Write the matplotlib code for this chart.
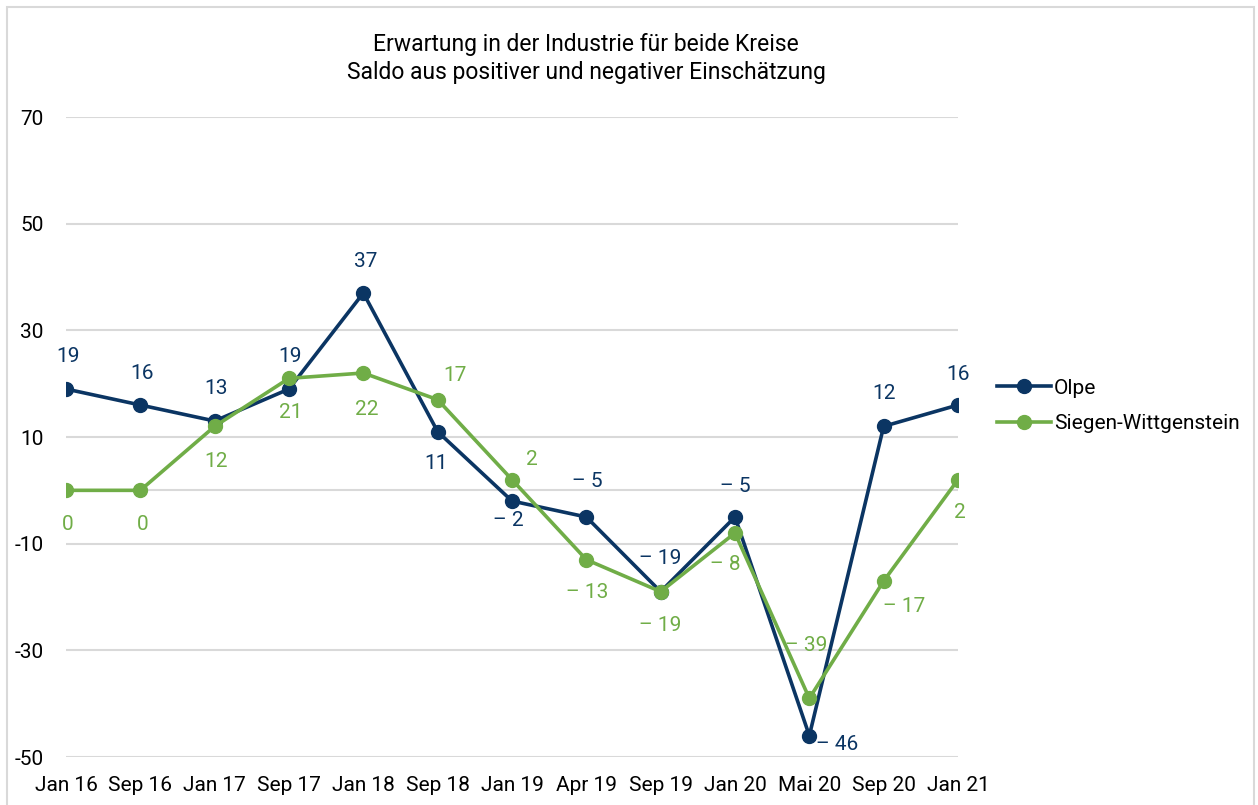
import matplotlib
matplotlib.use("Agg")
from matplotlib import pyplot as plt
from matplotlib.patches import Rectangle


# values
months = ["Jan 16", "Sep 16", "Jan 17", "Sep 17", "Jan 18", "Sep 18", "Jan 19",
          "Apr 19", "Sep 19", "Jan 20", "Mai 20", "Sep 20", "Jan 21"]
olpe = [19, 16, 13, 19, 37, 11, -2, -5, -19, -5, -46, 12, 16]
siegen = [0, 0, 12, 21, 22, 17, 2, -13, -19, -8, -39, -17, 2]
y_ticks = [70, 50, 30, 10, -10, -30, -50]

# label offsets in pixels (x, y), y positive = up
olpe_offsets = [(2, 33), (2, 32), (1, 33), (1, 33), (2, 32), (-2, -32), (-4, -19),
                (1, 36), (0, 33), (0, 31), (28, -9), (0, 33), (0, 31)]
siegen_offsets = [(2, -34), (2, -34), (1, -35), (2, -34), (3, -36), (17, 24), (20, 20),
                  (1, -33), (0, -34), (-10, -31), (-3, 53), (20, -25), (2, -33)]

navy = "#0b3563"
green = "#70ad47"

plt.rcParams["font.family"] = ["Roboto", "DejaVu Sans"]

fig = plt.figure(figsize=(12.58, 8.05), dpi=100)
ax = fig.add_axes([66 / 1258, 1 - 757 / 805, (958 - 66) / 1258, (757 - 117) / 805])

x = list(range(len(months)))
ax.plot(x, olpe, color=navy, linewidth=2.6, marker="o", markersize=10, label="Olpe", zorder=3)
ax.plot(x, siegen, color=green, linewidth=2.6, marker="o", markersize=10,
        label="Siegen-Wittgenstein", zorder=4)


def fmt(v):
    return f"– {abs(v)}" if v < 0 else str(v)


for i, v in enumerate(olpe):
    ax.annotate(fmt(v), (i, v), xytext=olpe_offsets[i], textcoords="offset pixels",
                ha="center", va="center", color=navy, fontsize=15)
for i, v in enumerate(siegen):
    ax.annotate(fmt(v), (i, v), xytext=siegen_offsets[i], textcoords="offset pixels",
                ha="center", va="center", color=green, fontsize=15)

ax.set_xlim(0, len(months) - 1)
ax.set_ylim(-50, 70)
ax.set_yticks(y_ticks)
ax.set_yticklabels([str(t) for t in y_ticks])
ax.set_xticks(x)
ax.set_xticklabels(months)
ax.tick_params(axis="both", length=0, labelsize=15, colors="black")
ax.tick_params(axis="y", pad=16)
ax.tick_params(axis="x", pad=14)

for t in y_ticks:
    ax.axhline(t, color="#d9d9d9", linewidth=1.5, zorder=1)
ax.axhline(0, color="#d9d9d9", linewidth=1.5, zorder=1)
for s in ax.spines.values():
    s.set_visible(False)

cx = 586 / 1258
fig.text(cx, 1 - 45 / 805, "Erwartung in der Industrie für beide Kreise",
         ha="center", va="center", fontsize=16.5)
fig.text(cx, 1 - 73 / 805, "Saldo aus positiver und negativer Einschätzung",
         ha="center", va="center", fontsize=16.5)

fig.legend(loc="center left", bbox_to_anchor=(978 / 1258, 1 - 406 / 805), frameon=False,
           fontsize=15, handlelength=2.6, handletextpad=0.15, labelspacing=0.8)

fig.patches.append(Rectangle((7 / 1258, -0.01), (1254 - 7) / 1258, 1.01 - 7 / 805,
                             transform=fig.transFigure, fill=False, edgecolor="#d9d9d9",
                             linewidth=1.5))

fig.savefig("out.png", dpi=100, facecolor="white")
